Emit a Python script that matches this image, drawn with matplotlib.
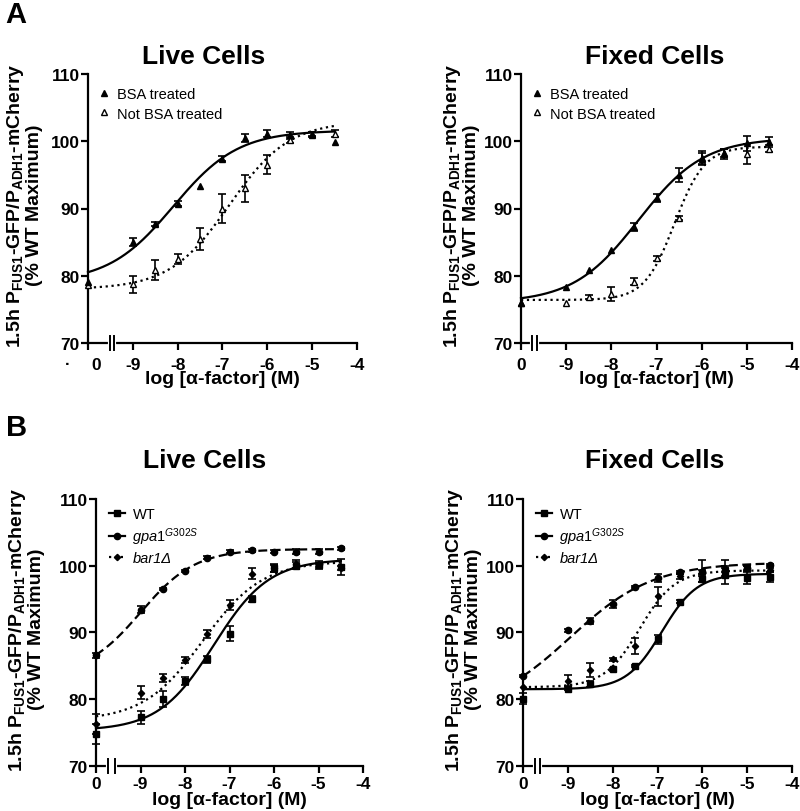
import numpy as np
import matplotlib
matplotlib.use('Agg')
import matplotlib.pyplot as plt
import matplotlib.transforms as mtransforms

plt.rcParams['font.family'] = 'Liberation Sans'
plt.rcParams['mathtext.fontset'] = 'custom'
plt.rcParams['mathtext.rm'] = 'Liberation Sans'
plt.rcParams['mathtext.it'] = 'Liberation Sans:italic'
plt.rcParams['mathtext.bf'] = 'Liberation Sans:bold'

###########################################################################
# data (log [alpha-factor]; the 0 M point sits at zero_pos on the axis)
###########################################################################
zero_pos = -10
log_conc = [-9, -8.5, -8, -7.5, -7, -6.5, -6, -5.5, -5, -4.5]
xtick_pos = [-10, -9, -8, -7, -6, -5, -4]
xtick_lab = ['0', '-9', '-8', '-7', '-6', '-5', '-4']
ytick_pos = [70, 80, 90, 100, 110]

# panel A, live cells
a_live_bsa = [79.0, 85.0, 87.7, 90.7, 93.4, 97.4, 100.5, 101.1, 100.9, 101.0, 99.9]
a_live_bsa_err = [0, 0.6, 0.3, 0.4, 0, 0.4, 0.6, 0.5, 0.5, 0.4, 0]
a_live_nobsa = [78.6, 78.7, 80.8, 82.5, 85.5, 90.0, 93.0, 96.5, 100.2, 101.1, 101.1]
a_live_nobsa_err = [0, 1.2, 1.5, 0.7, 1.6, 2.1, 2.0, 1.4, 0.5, 0.3, 0.5]
# panel A, fixed cells
a_fix_bsa = [76.0, 78.4, 80.8, 83.8, 87.3, 91.5, 95.0, 97.5, 98.3, 99.7, 99.9]
a_fix_bsa_err = [0, 0, 0, 0, 0.6, 0.6, 1.0, 1.0, 0.6, 1.1, 0.8]
a_fix_nobsa = [76.0, 75.9, 76.9, 77.3, 79.1, 82.6, 88.6, 97.4, 98.1, 98.1, 98.9]
a_fix_nobsa_err = [0, 0, 0.3, 1.0, 0.5, 0.4, 0.3, 0.8, 0.8, 1.5, 0.5]

# panel B, live cells
b_live_wt = [74.8, 77.3, 80.0, 82.8, 86.0, 89.8, 95.0, 99.6, 100.0, 100.1, 99.8]
b_live_wt_err = [1.5, 1.0, 1.2, 0.6, 0.5, 1.1, 0.4, 0.5, 0.5, 0.6, 1.2]
b_live_gpa1 = [86.6, 93.4, 96.5, 99.2, 101.2, 102.1, 102.3, 102.1, 102.1, 102.1, 102.6]
b_live_gpa1_err = [0.4, 0.5, 0.2, 0.2, 0.2, 0.2, 0.2, 0.2, 0.4, 0.4, 0.2]
b_live_bar1 = [76.3, 81.0, 83.2, 85.9, 89.8, 94.1, 98.8, 99.7, 100.2, 100.1, 99.7]
b_live_bar1_err = [1.5, 1.0, 0.6, 0.4, 0.6, 0.7, 0.8, 0.6, 0.6, 0.3, 0.3]
# panel B, fixed cells
b_fix_wt = [80.1, 81.6, 82.3, 84.5, 85.0, 89.0, 94.6, 98.0, 98.6, 98.2, 98.3]
b_fix_wt_err = [0.8, 0.2, 0.5, 0.2, 0.2, 0.7, 0.2, 0.4, 1.4, 0.9, 0.8]
b_fix_gpa1 = [83.5, 90.3, 91.7, 94.2, 96.8, 98.1, 99.0, 99.0, 99.4, 99.7, 100.1]
b_fix_gpa1_err = [0.2, 0.2, 0.5, 0.6, 0.2, 0.6, 0.2, 0.3, 0.3, 0.3, 0.2]
b_fix_bar1 = [81.9, 82.8, 84.4, 86.0, 88.0, 95.4, 98.4, 99.2, 99.6, 99.6, 99.3]
b_fix_bar1_err = [0, 0.8, 1.0, 0.2, 1.15, 1.4, 0.4, 1.7, 1.2, 0.4, 0.3]

# 4PL fit parameters: bottom, top, logEC50, hill
fit_a_live_bsa = (79.0, 101.6, -8.1, 0.6)
fit_a_live_nobsa = (78.0, 103.0, -6.85, 0.65)
fit_a_fix_bsa = (76.0, 100.5, -7.4, 0.6)
fit_a_fix_nobsa = (76.4, 99.2, -6.6, 1.3)
fit_b_live_wt = (75.3, 101.0, -7.35, 0.7)
fit_b_live_gpa1 = (83.5, 102.5, -9.0, 0.7)
fit_b_live_bar1 = (76.8, 100.7, -7.6, 0.65)
fit_b_fix_wt = (81.5, 98.8, -6.9, 1.1)
fit_b_fix_gpa1 = (78.0, 100.5, -8.95, 0.47)
fit_b_fix_bar1 = (81.8, 99.3, -7.4, 1.1)

###########################################################################
W, H = 800, 812
fig = plt.figure(figsize=(W / 100, H / 100), dpi=100)

def px_axes(left, top, right, bottom):
    return fig.add_axes([left / W, 1 - bottom / H, (right - left) / W, (bottom - top) / H])

xs = np.r_[zero_pos, log_conc]
xfit = np.linspace(-10, -4.5, 300)

def logistic(p, x):
    b, t, ec, h = p
    return b + (t - b) / (1 + 10 ** ((ec - x) * h))

def series(ax, y, err, fit, marker, mfc, ms, ls, label):
    y = np.asarray(y)
    err = np.asarray(err)
    ok = err > 0
    ax.errorbar(xs[ok], y[ok], yerr=err[ok], fmt='none', ecolor='black',
                elinewidth=1.2, capsize=3, capthick=1.2, clip_on=False, zorder=3)
    ax.plot(xfit, logistic(fit, xfit), color='black', lw=1.6, ls=ls, clip_on=False, zorder=2)
    h, = ax.plot(xs, y, ls='none', marker=marker, mfc=mfc, mec='black', mew=1.0,
                 ms=ms, clip_on=False, zorder=4, label=label)
    return h

def style(ax, brk, lab_x, xpad, xlpad):
    ax.set_xlim(-10, -4)
    ax.set_ylim(70, 110)
    for s in ['top', 'right']:
        ax.spines[s].set_visible(False)
    for s in ['left', 'bottom']:
        ax.spines[s].set_linewidth(1.6)
    ax.set_yticks(ytick_pos)
    ax.set_xticks(xtick_pos)
    ax.set_xticklabels(xtick_lab)
    ax.tick_params(direction='out', length=5, width=1.6, labelsize=12.5, pad=1)
    ax.tick_params(axis='x', pad=xpad)
    for t in ax.get_xticklabels() + ax.get_yticklabels():
        t.set_fontweight('bold')
    tr = ax.get_xaxis_transform()
    ax.plot(brk, [0, 0], transform=tr, color='white', lw=3, clip_on=False, zorder=5)
    for b in brk:
        ax.plot([b, b], [-0.025, 0.025], transform=tr, color='black', lw=1.4,
                clip_on=False, zorder=6)
    ax.set_xlabel('log [\u03b1-factor] (M)', fontsize=14, fontweight='bold', labelpad=xlpad)
    ax.set_ylabel('1.5h P$_{\\mathbf{FUS1}}$-GFP/P$_{\\mathbf{ADH1}}$-mCherry\n(% WT Maximum)',
                  fontsize=14, fontweight='bold', linespacing=1.0)
    ax.yaxis.set_label_coords(lab_x, 0.515)

# ---------------- panel A ----------------
axes_a = [px_axes(88, 75, 357, 344), px_axes(521, 75, 792, 344)]
a_sets = [
    (a_live_bsa, a_live_bsa_err, fit_a_live_bsa, a_live_nobsa, a_live_nobsa_err, fit_a_live_nobsa),
    (a_fix_bsa, a_fix_bsa_err, fit_a_fix_bsa, a_fix_nobsa, a_fix_nobsa_err, fit_a_fix_nobsa),
]
a_breaks = [[-9.51, -9.41], [-9.76, -9.64]]
a_labx = [-0.167, -0.151]
for ax, d, brk, lx in zip(axes_a, a_sets, a_breaks, a_labx):
    h2 = series(ax, d[3], d[4], d[5], '^', 'white', 4.3, ':', 'Not BSA treated')
    h1 = series(ax, d[0], d[1], d[2], '^', 'black', 4.3, '-', 'BSA treated')
    style(ax, brk, lx, 5, -1)
    ax.legend([h1, h2], ['BSA treated', 'Not BSA treated'], loc='upper left',
              bbox_to_anchor=(0.0, 0.988), frameon=False, handlelength=0.8,
              handletextpad=0.5, labelspacing=0.35, borderaxespad=0.3,
              prop={'size': 10.5})

# ---------------- panel B ----------------
axes_b = [px_axes(96, 500, 363, 767), px_axes(523, 500, 792, 767)]
b_sets = [
    (b_live_wt, b_live_wt_err, fit_b_live_wt, b_live_gpa1, b_live_gpa1_err, fit_b_live_gpa1,
     b_live_bar1, b_live_bar1_err, fit_b_live_bar1),
    (b_fix_wt, b_fix_wt_err, fit_b_fix_wt, b_fix_gpa1, b_fix_gpa1_err, fit_b_fix_gpa1,
     b_fix_bar1, b_fix_bar1_err, fit_b_fix_bar1),
]
b_breaks = [[-9.73, -9.57], [-9.73, -9.62]]
b_labx = [-0.191, -0.152]
for ax, d, brk, lx in zip(axes_b, b_sets, b_breaks, b_labx):
    series(ax, d[6], d[7], d[8], 'D', 'black', 3.2, ':', 'bar1')
    series(ax, d[3], d[4], d[5], 'o', 'black', 4.5, (0, (4, 2)), 'gpa1')
    series(ax, d[0], d[1], d[2], 's', 'black', 4.5, '-', 'WT')
    style(ax, brk, lx, 2, 0)
    hw, = ax.plot([], [], color='black', lw=1.6, ls='-', marker='s', ms=4.5)
    hg, = ax.plot([], [], color='black', lw=1.6, ls='-', marker='o', ms=4.5)
    hb, = ax.plot([], [], color='black', lw=1.6, ls=':', marker='D', ms=3.2)
    leg = ax.legend([hw, hg, hb], ['WT', '$gpa1^{G302S}$', 'bar1\u0394'], loc='upper left',
                    bbox_to_anchor=(0.0, 1.02), frameon=False, handlelength=1.1,
                    handletextpad=0.5, labelspacing=0.3, prop={'size': 10.5})
    leg.get_texts()[2].set_fontstyle('italic')

# A live: the "0" label sits a bit right of the axis, with a stray dot to its left
ax = axes_a[0]
zero_lab = ax.get_xticklabels()[0]
zero_lab.set_transform(zero_lab.get_transform() +
                       mtransforms.ScaledTranslation(8 / 100, 0, fig.dpi_scale_trans))
ax.text(-10.45, -0.05, '\u00b7', transform=ax.get_xaxis_transform(), ha='center',
        va='top', fontsize=12, fontweight='bold')

# titles and panel letters
titles = [('Live Cells', 204, 57), ('Fixed Cells', 655, 57),
          ('Live Cells', 205, 461), ('Fixed Cells', 655, 461)]
for t, x, y in titles:
    fig.text(x / W, 1 - y / H, t, ha='center', va='center', fontsize=19, fontweight='bold')
fig.text(16 / W, 1 - 1 / H, 'A', ha='center', va='top', fontsize=21, fontweight='bold')
fig.text(17 / W, 1 - 414 / H, 'B', ha='center', va='top', fontsize=21, fontweight='bold')

plt.savefig('out.png', dpi=100)
